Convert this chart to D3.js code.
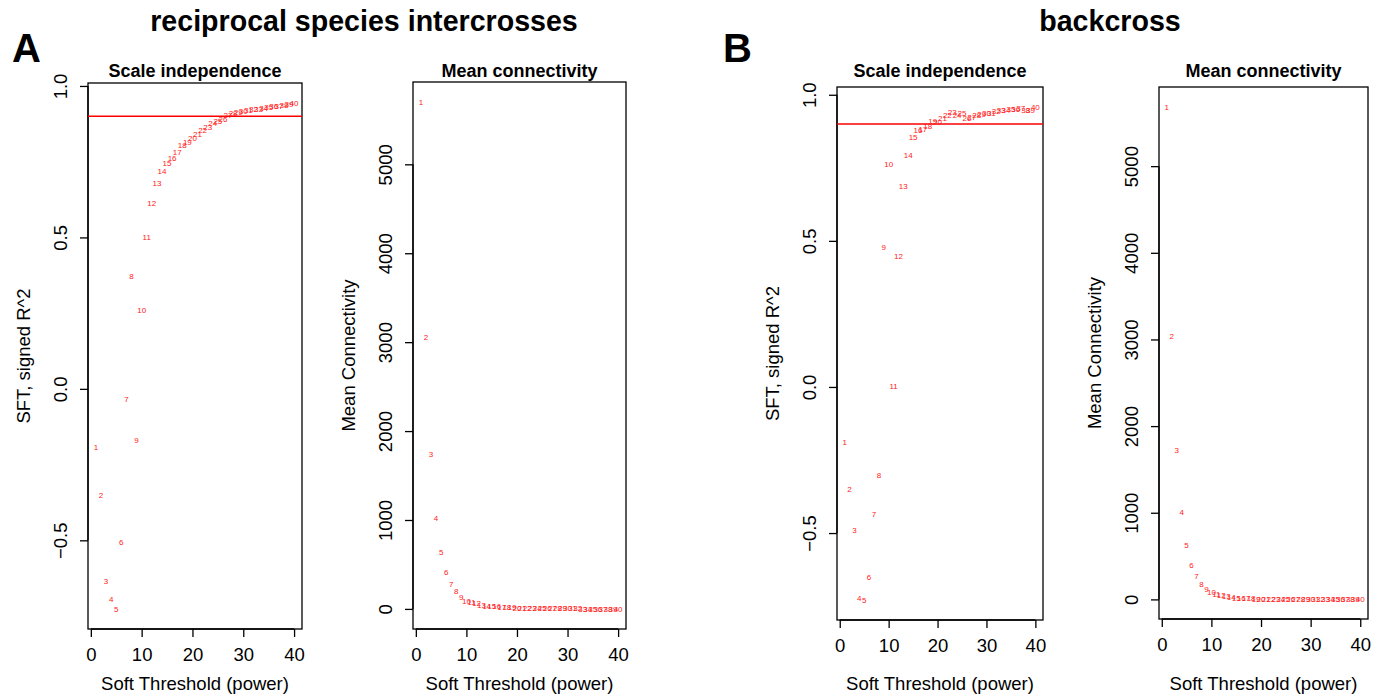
<!DOCTYPE html>
<html><head><meta charset="utf-8">
<script src="https://cdn.jsdelivr.net/npm/d3@7"></script>
<style>
body{margin:0;background:#fff}
svg{display:block}
text{font-family:"Liberation Sans",Arial,Helvetica,sans-serif;fill:#000}
</style></head>
<body><svg id="c" width="1384" height="700"></svg>
<script>
// ---- data ----
const powers = [1,2,3,4,5,6,7,8,9,10,11,12,13,14,15,16,17,18,19,20,21,22,23,24,25,26,27,28,29,30,31,32,33,34,35,36,37,38,39,40];
const sftA = [-0.193,-0.350,-0.634,-0.694,-0.726,-0.506,-0.033,0.372,-0.168,0.261,0.502,0.613,0.679,0.719,0.746,0.762,0.782,0.805,0.814,0.828,0.842,0.855,0.865,0.876,0.885,0.891,0.904,0.910,0.913,0.916,0.919,0.922,0.925,0.927,0.929,0.932,0.935,0.938,0.941,0.943];
const kA = [5698,3052,1739,1025,642,417,275,196,135,90,72,61,42,34,30,27,19,16,15,12,10,9,8,7,6.5,6,5.5,5,4.5,4,3.8,3.5,3.2,3,2.8,2.6,2.4,2.2,2,1.9];
const sftB = [-0.189,-0.349,-0.491,-0.724,-0.730,-0.652,-0.436,-0.302,0.479,0.763,0.002,0.448,0.687,0.793,0.855,0.879,0.884,0.893,0.911,0.905,0.921,0.932,0.940,0.930,0.938,0.919,0.925,0.930,0.934,0.936,0.938,0.944,0.946,0.948,0.950,0.952,0.954,0.948,0.948,0.959];
const kB = [5686,3033,1719,1011,623,396,265,177,115,84,65,50,38,27,19,16,13,10,9,8,7,6,5.5,5,4.5,4,3.6,3.3,3,2.7,2.5,2.3,2.1,1.9,1.7,1.6,1.5,1.4,1.3,1.2];
const xTicks = [0,10,20,30,40];
const sftTicks = [-0.5,0,0.5,1.0];
const kTicks = [0,1000,2000,3000,4000,5000];
const cutoff = 0.90;
const groupTitles = ["reciprocal species intercrosses","backcross"];
const groupLetters = ["A","B"];
const panelTitles = ["Scale independence","Mean connectivity"];
const xLabel = "Soft Threshold (power)";
const yLabels = ["SFT, signed R^2","Mean Connectivity"];

// ---- layout ----
const svg = d3.select("#c");
const panels = [
  {box:[88,83,302,629], vals:sftA, ticks:sftTicks, fmt:d3.format(".1f"), title:panelTitles[0], ylab:yLabels[0], line:true},
  {box:[413,82,626,629], vals:kA, ticks:kTicks, fmt:d3.format("d"), title:panelTitles[1], ylab:yLabels[1], line:false},
  {box:[837,87,1043,620], vals:sftB, ticks:sftTicks, fmt:d3.format(".1f"), title:panelTitles[0], ylab:yLabels[0], line:true},
  {box:[1159,87,1368,619], vals:kB, ticks:kTicks, fmt:d3.format("d"), title:panelTitles[1], ylab:yLabels[1], line:false}
];

function pad(ext){ const r = ext[1]-ext[0]; return [ext[0]-0.04*r, ext[1]+0.04*r]; }

const axisFont = 18.5;
panels.forEach(p=>{
  const [l,t,r,b] = p.box;
  const x = d3.scaleLinear().domain(pad(d3.extent(powers))).range([l,r]);
  const y = d3.scaleLinear().domain(pad(d3.extent(p.vals))).range([b,t]);
  const g = svg.append("g");

  // x axis
  const xa = g.append("g").attr("transform",`translate(0,${b})`)
    .call(d3.axisBottom(x).tickValues(xTicks).tickSize(8).tickPadding(0).tickFormat(d3.format("d")));
  xa.select(".domain").attr("d",`M${x(xTicks[0])},0H${x(xTicks[xTicks.length-1])}`).attr("stroke","#000").attr("stroke-width",1.3);
  xa.selectAll(".tick line").attr("stroke","#000").attr("stroke-width",1.3);
  xa.selectAll(".tick text").attr("y",32).attr("dy",0).attr("font-size",axisFont).style("font-family",'"Liberation Sans",Arial,sans-serif');

  // y axis
  const ya = g.append("g").attr("transform",`translate(${l},0)`)
    .call(d3.axisLeft(y).tickValues(p.ticks).tickSize(8).tickFormat(p.fmt));
  ya.select(".domain").attr("d",`M0,${y(p.ticks[0])}V${y(p.ticks[p.ticks.length-1])}`).attr("stroke","#000").attr("stroke-width",1.3);
  ya.selectAll(".tick line").attr("stroke","#000").attr("stroke-width",1.3);
  ya.selectAll(".tick text").attr("x",null).attr("dy",null)
    .attr("transform","translate(-21,0) rotate(-90)")
    .attr("text-anchor","middle").attr("font-size",axisFont).style("font-family",'"Liberation Sans",Arial,sans-serif');

  // box
  g.append("rect").attr("x",l).attr("y",t).attr("width",r-l).attr("height",b-t)
    .attr("fill","none").attr("stroke","#000").attr("stroke-width",1.3);

  // cutoff line
  if(p.line){
    g.append("line").attr("x1",l).attr("x2",r).attr("y1",y(cutoff)).attr("y2",y(cutoff))
      .attr("stroke","#ff0000").attr("stroke-width",1.5);
  }

  // point labels
  g.append("g").selectAll("text").data(powers).join("text")
    .attr("x",(d)=>x(d)).attr("y",(d,i)=>y(p.vals[i]))
    .attr("dy","0.36em").attr("text-anchor","middle")
    .attr("font-size",8).style("fill","#ff2020")
    .text(d=>d);

  // titles
  g.append("text").attr("x",(l+r)/2).attr("y",77).attr("text-anchor","middle")
    .attr("font-size",18).attr("font-weight","bold").text(p.title);
  g.append("text").attr("x",(l+r)/2).attr("y",690).attr("text-anchor","middle")
    .attr("font-size",axisFont).text(xLabel);
  g.append("text").attr("transform",`translate(${l-58},${(t+b)/2}) rotate(-90)`)
    .attr("text-anchor","middle").attr("font-size",axisFont).text(p.ylab);
});

// group titles
[[364,groupTitles[0]],[1110,groupTitles[1]]].forEach(([cx,txt])=>{
  svg.append("text").attr("x",cx).attr("y",31).attr("text-anchor","middle")
    .attr("font-size",28.6).attr("font-weight","bold").text(txt);
});
[[12,groupLetters[0]],[723,groupLetters[1]]].forEach(([lx,txt])=>{
  svg.append("text").attr("x",lx).attr("y",62)
    .attr("font-size",40).attr("font-weight","bold").text(txt);
});
</script></body></html>
